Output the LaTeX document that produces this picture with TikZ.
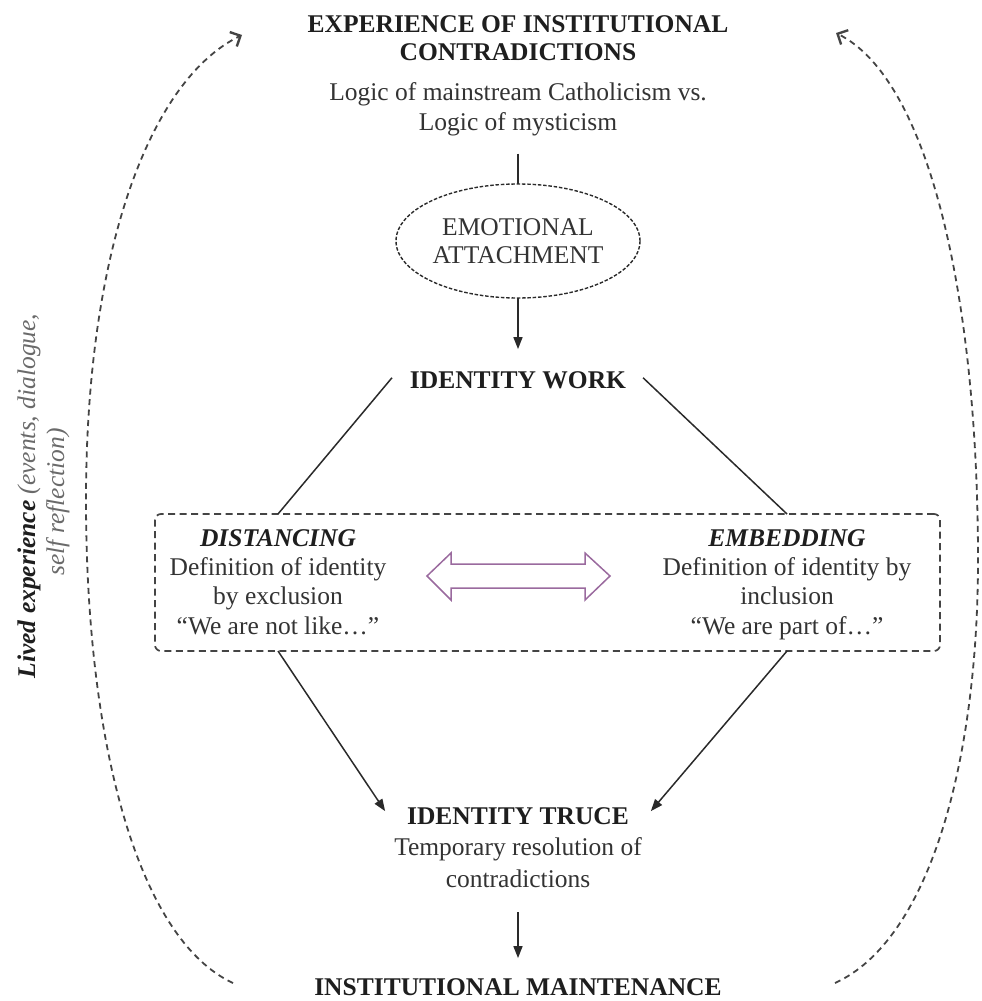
\documentclass[tikz,border=0pt]{standalone}
\usepackage{fontspec}
\setmainfont{Liberation Serif}
\usetikzlibrary{arrows.meta,shapes.geometric,calc}
\definecolor{ink}{HTML}{1E1E1E}
\definecolor{txt}{HTML}{333333}
\definecolor{grayt}{HTML}{6A6A6A}
\definecolor{lin}{HTML}{2A2A2A}
\definecolor{dsh}{HTML}{444444}
\definecolor{purp}{HTML}{9A6A9E}
\begin{document}
\begin{tikzpicture}[x=1pt,y=-1pt,
  every node/.style={inner sep=0pt, outer sep=0pt},
  hd/.style={font=\fontsize{25.5}{29}\selectfont\bfseries, text=ink, anchor=base},
  hi/.style={font=\fontsize{25.5}{29}\selectfont\bfseries\itshape, text=ink, anchor=base},
  tx/.style={font=\fontsize{25.5}{29}\selectfont, text=txt, anchor=base},
  ln/.style={draw=lin, line width=1.5pt},
  arr/.style={draw=lin, line width=1.5pt, -{Triangle[length=12pt,width=9pt]}},
  dcurve/.style={draw=dsh, line width=1.8pt, dash pattern=on 6pt off 4.5pt,
    -{Straight Barb[length=8pt,width=16pt,line width=2.4pt]}},
]
\useasboundingbox (0,0) rectangle (982,1001);

% top
\node[hd] (exp1) at (518,32) {EXPERIENCE OF INSTITUTIONAL};
\node[hd] (exp2) at (518,60) {CONTRADICTIONS};
\node[tx] (log1) at (518,100) {Logic of mainstream Catholicism vs.};
\node[tx] (log2) at (518,130) {Logic of mysticism};
\node[ellipse, draw=lin, line width=1.4pt, dash pattern=on 3.5pt off 1.8pt,
  minimum width=244pt, minimum height=114pt, align=center,
  font=\fontsize{25.5}{28}\selectfont, text=txt] (emo) at (518,241) {EMOTIONAL\\ATTACHMENT};
\node[hd] (iw) at (518,388) {IDENTITY WORK};

% middle box
\node[draw=dsh, line width=1.7pt, dash pattern=on 7pt off 4.5pt, rounded corners=6pt,
  minimum width=785pt, minimum height=137pt] (box) at (547.5,582.5) {};
\node[hi] (dis) at (278,546) {DISTANCING};
\node[tx] (dis1) at (278,575) {Definition of identity};
\node[tx] (dis2) at (278,604) {by exclusion};
\node[tx] (dis3) at (278,634) {“We are not like…”};
\node[hi] (emb) at (787,546) {EMBEDDING};
\node[tx] (emb1) at (787,575) {Definition of identity by};
\node[tx] (emb2) at (787,604) {inclusion};
\node[tx] (emb3) at (787,634) {“We are part of…”};

% bottom
\node[hd] (tr) at (518,824) {IDENTITY TRUCE};
\node[tx] (tr1) at (518,855) {Temporary resolution of};
\node[tx] (tr2) at (518,887) {contradictions};
\node[hd] (maint) at (518,995) {INSTITUTIONAL MAINTENANCE};

% side label
\node[rotate=90, anchor=base, font=\fontsize{25.5}{29}\selectfont, text=ink] (lived1) at (35,496)
  {\bfseries\itshape Lived experience \mdseries\color{grayt}(events, dialogue,};
\node[rotate=90, anchor=base, font=\fontsize{25.5}{29}\selectfont\itshape, text=grayt] (lived2) at (64,502)
  {self reflection)};

% connectors
\draw[ln] ($(log2.south)+(0,18)$) -- (emo.north);
\draw[arr] (emo.south) -- ($(iw.north)+(0,-22)$);
\draw[ln] ($(iw.west)+(-18,-2)$) -- (dis |- box.north);
\draw[ln] ($(iw.east)+(17,-2)$) -- (emb |- box.north);
\draw[arr] (dis |- box.south) -- ($(tr.north west)+(-22,4)$);
\draw[arr] (emb |- box.south) -- ($(tr.north east)+(22,4)$);
\draw[arr] ($(tr2.south)+(0,25)$) -- ($(maint.north)+(0,-20)$);

% double arrow
\draw[purp, line width=1.5pt, line join=miter]
  (427,576) -- (451,553) -- (451,564) -- (585,564) -- (585,553) -- (610,576)
  -- (585,600) -- (585,588) -- (451,588) -- (451,600) -- cycle;

% feedback loops
\coordinate (lb) at (233,983);
\coordinate (lt) at (242,35);
\coordinate (rb) at (835,983);
\coordinate (rt) at (836,33);
\draw[dcurve] (lb) .. controls (140,940) and (86,750) .. (86,500)
  .. controls (86,250) and (150,80) .. (lt);
\draw[dcurve] (rb) .. controls (930,940) and (978,760) .. (978,560)
  .. controls (978,300) and (930,80) .. (rt);
\end{tikzpicture}
\end{document}
